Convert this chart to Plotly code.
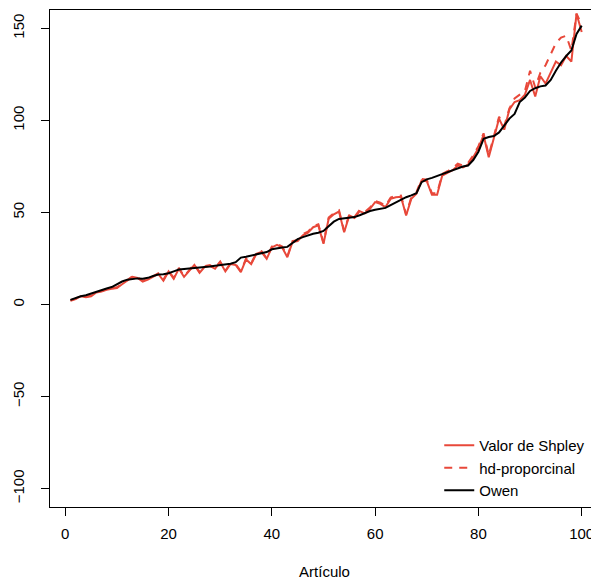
import plotly.graph_objects as go

articulo = list(range(1, 101))

owen = [2.5, 3.5, 4.5, 5, 6, 6.8, 7.8, 8.7, 9.5, 11,
        12.5, 13.5, 14, 14.2, 14, 14.5, 15.5, 16.3, 16.5, 17,
        18, 19, 19.3, 19.5, 19.7, 19.9, 20.2, 20.6, 21, 21.3,
        21.7, 22.2, 23, 25.5, 26, 26.6, 27, 27.6, 28.5, 30,
        30.6, 31, 31.3, 33.5, 35.5, 36.6, 37.6, 38.4, 39, 40,
        42.5, 45, 46.5, 46.8, 47, 47.5, 48.5, 49.8, 50.8, 51.5,
        52, 52.5, 54, 55.5, 57, 58.3, 59.3, 60.5, 66.5, 68,
        68.8, 69.8, 70.8, 72, 73.2, 74.2, 75, 75.5, 78.5, 83,
        90, 91, 91.5, 93.5, 97, 101, 103.5, 110, 112.5, 116,
        117.5, 118.5, 119, 122, 127, 131.5, 135, 138, 147, 151.5]

shapley = [2, 3, 4.5, 4, 4.5, 6.5, 7, 8, 8.5, 9,
           11, 13, 15, 14.5, 12.5, 13.5, 15, 16.6, 13, 18,
           14, 19.5, 15, 18, 21.5, 17.2, 20.5, 21, 19.4, 23,
           18, 22, 21.5, 17.6, 24.5, 22, 27.5, 28.5, 24.8, 31,
           32.4, 31, 25.7, 34, 34.5, 37.6, 39, 42, 43, 33,
           46.6, 49, 50.5, 39.3, 48.4, 47, 50.7, 49.5, 52, 55.6,
           54.7, 52.9, 57.4, 58.3, 58.5, 48.4, 57.4, 60.2, 67.4, 67,
           59.6, 59.6, 70.1, 71.5, 73, 75.5, 74.5, 76, 80, 85,
           92, 80, 90, 101, 95, 106, 110, 111, 114, 122,
           113, 124, 120, 126, 132, 130, 135, 132, 158, 148]

hd_prop = [2.3, 3.2, 4.8, 4.3, 4.8, 6.8, 7.3, 8.3, 8.8, 9.4,
           11.3, 13.4, 15.3, 14.8, 12.9, 13.8, 15.4, 17, 13.4, 18.4,
           14.4, 19.9, 15.4, 18.4, 21.9, 17.6, 20.9, 21.4, 19.8, 23.4,
           18.4, 22.4, 21.9, 18, 25, 22.4, 28, 29, 25.2, 31.5,
           33, 31.5, 26.2, 34.5, 35, 38.2, 39.6, 42.6, 43.6, 33.6,
           47.2, 49.6, 51.2, 40, 49, 47.6, 51.4, 50.2, 52.7, 56.3,
           55.4, 53.6, 58.1, 59, 59.2, 49, 58.2, 61, 68.2, 67.8,
           60.4, 60.4, 71, 72.4, 74, 76.5, 75.5, 77, 81, 86,
           93, 81, 91.5, 102, 97, 106.5, 112, 114, 116, 127,
           118, 126, 130, 136, 142, 145, 146, 138, 158, 152]

red = "#E8483A"

fig = go.Figure()
fig.add_trace(go.Scatter(x=articulo, y=shapley, mode="lines", name="Valor de Shpley",
                         line=dict(color=red, width=2)))
fig.add_trace(go.Scatter(x=articulo, y=hd_prop, mode="lines", name="hd-proporcinal",
                         line=dict(color=red, width=2, dash="8px,7px")))
fig.add_trace(go.Scatter(x=articulo, y=owen, mode="lines", name="Owen",
                         line=dict(color="black", width=2)))

font = dict(family="Liberation Sans, Arial, sans-serif", size=15, color="black")

# the page body adds an 8px offset, so the figure is sized to fit the window
fig.update_layout(
    width=591, height=576,
    margin=dict(l=42, r=0, t=2, b=77),
    paper_bgcolor="white", plot_bgcolor="white",
    font=font,
    showlegend=True,
    legend=dict(x=0.709, y=0.0, xanchor="left", yanchor="bottom",
                bgcolor="rgba(0,0,0,0)", font=dict(size=15), tracegroupgap=0),
    xaxis=dict(range=[-2.96, 103.35], tickvals=[0, 20, 40, 60, 80, 100],
               showgrid=False, zeroline=False, showline=True, mirror=True,
               linecolor="black", linewidth=1, ticks="outside", ticklen=8,
               tickcolor="black", ticklabelstandoff=5, automargin=False,
               title=dict(text="Artículo", standoff=25, font=dict(size=15))),
    yaxis=dict(range=[-110, 160], tickvals=[-100, -50, 0, 50, 100, 150],
               showgrid=False, zeroline=False, showline=True, mirror=False,
               linecolor="black", linewidth=1, ticks="outside", ticklen=8,
               tickcolor="black", tickangle=-90, ticklabelstandoff=11,
               automargin=False),
)

fig.write_html("out.html")
